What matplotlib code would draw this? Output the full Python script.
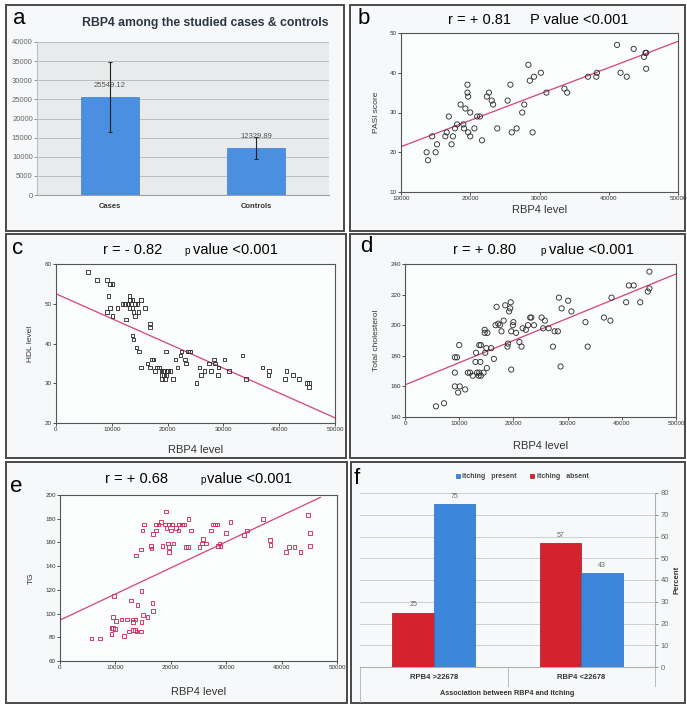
import matplotlib
matplotlib.use("Agg")
import matplotlib.pyplot as plt
from matplotlib.patches import Rectangle
import numpy as np

plt.rcParams["font.family"] = ["Liberation Sans", "DejaVu Sans"]

W, H = 687, 704
PANEL_BG = "#f7f8f9"
FRAME = "#4a4a4a"
FIT = "#d4437a"

# ---- panel a: mean RBP4 in cases / controls
a_groups = ["Cases", "Controls"]
a_means = [25549.12, 12329.89]
a_sd = [9200, 2800]
a_yticks = list(range(0, 40001, 5000))

# ---- panel b: RBP4 vs PASI score
b_rbp4 = [13700, 13900, 14500, 15000, 15200, 16400, 16600, 16900, 17300, 17500,
          17800, 18100, 18600, 19000, 19100, 19300, 19600, 19600, 19700, 19700,
          20000, 20000, 20600, 21000, 21400, 21700, 22400, 22700, 23100, 23300,
          23900, 25400, 25800, 26000, 26700, 27500, 27800, 28400, 28600, 29000,
          29200, 30200, 31000, 33600, 34000, 37000, 38200, 38300, 41200, 41700,
          42600, 43600, 45100, 45300, 45400, 45400]
b_pasi = [20, 18, 24, 20, 22, 24, 25, 29, 22, 24,
          26, 27, 32, 27, 26, 31, 37, 35, 34, 25,
          24, 30, 26, 29, 29, 23, 34, 35, 33, 32,
          26, 33, 37, 25, 26, 30, 32, 42, 38, 25,
          39, 40, 35, 36, 35, 39, 39, 40, 47, 40,
          39, 46, 44, 45, 41, 45]
b_fit_x = [10000, 50000]
b_fit_y = [21.4, 47.9]

# ---- panel c: RBP4 vs HDL
c_rbp4 = [5700, 7300, 9100, 9700, 10100, 9400, 9700, 9200, 10100, 11000,
          11900, 12400, 12800, 12500, 13200, 13300, 13700, 13000, 13500, 14200,
          14600, 13200, 13700, 13900, 14200, 14800, 15200, 15900, 16800, 16900,
          13700, 13900, 14400, 14900, 15200, 16400, 16800, 17200, 17500, 17700,
          18100, 18500, 18900, 19200, 19400, 19000, 19300, 19000, 19500, 19700,
          19800, 20100, 20500, 19800, 21000, 21400, 21800, 22300, 22500, 23100,
          23300, 23700, 24000, 25200, 25700, 26000, 26600, 27400, 27800, 28300,
          28500, 29000, 29100, 30200, 31000, 33400, 34000, 37000, 38100, 38200,
          41000, 41300, 42500, 43600, 45000, 45300, 45400]
c_hdl = [58, 56, 56, 55, 55, 52, 49, 48, 47, 49,
         50, 50, 50, 46, 52, 51, 51, 50, 50, 50,
         50, 49, 49, 48, 47, 48, 51, 49, 45, 44,
         42, 41, 39, 38, 34, 35, 34, 36, 36, 33,
         34, 34, 33, 33, 33, 32, 32, 31, 31, 38,
         33, 33, 33, 32, 31, 36, 34, 37, 38, 36,
         35, 38, 38, 30, 34, 32, 33, 35, 33, 36,
         35, 32, 34, 36, 33, 37, 31, 34, 32, 33,
         31, 33, 32, 31, 30, 30, 29]
c_fit_x = [0, 50000]
c_fit_y = [52.5, 21.3]

# ---- panel d: RBP4 vs total cholesterol
d_rbp4 = [5700, 7200, 9200, 9600, 9200, 9200, 10000, 9800, 10100, 11100,
          11600, 12000, 12500, 13000, 13100, 13300, 13600, 13700, 14000, 13700,
          14000, 13900, 14500, 14700, 14700, 15200, 14800, 15000, 15100, 15900,
          16400, 16900, 16700, 17200, 17500, 17800, 18200, 18500, 18900, 19000,
          19200, 19400, 19500, 19600, 19600, 19900, 20000, 20500, 21100, 21500,
          21700, 22300, 22700, 23100, 23300, 23800, 25200, 25500, 25800, 26500,
          27300, 27600, 28200, 28400, 28700, 28900, 30100, 30700, 33300, 33700,
          36700, 37900, 38100, 40800, 41300, 42200, 43400, 44800, 45100, 45100]
d_chol = [147, 149, 179, 179, 169, 160, 187, 156, 160, 158,
          169, 169, 167, 176, 182, 169, 167, 169, 167, 187,
          187, 176, 169, 197, 195, 195, 182, 185, 172, 185,
          178, 212, 200, 201, 200, 196, 203, 213, 186, 188,
          209, 211, 215, 196, 171, 200, 202, 195, 189, 186,
          198, 197, 200, 205, 205, 200, 205, 198, 203, 198,
          186, 196, 196, 218, 173, 211, 216, 209, 202, 186,
          205, 203, 218, 215, 226, 226, 215, 222, 224, 235]
d_fit_x = [0, 50000]
d_fit_y = [161, 233.5]

# ---- panel e: RBP4 vs TG
e_rbp4 = [5700, 7200, 9300, 9300, 9600, 9900, 9600, 9800, 10100, 11100,
          11600, 12100, 12500, 12800, 13100, 13200, 13200, 13500, 13600, 13800,
          14000, 14600, 14700, 14700, 15000, 15800, 16700, 16800,
          13700, 14600, 16400, 16500, 14900, 15200, 16800, 17300, 17300, 17800,
          18200, 18500, 19100, 18900, 19200, 19700, 20200, 19500, 19700, 19700,
          20000, 20500, 20900, 21400, 21500, 22000, 22400, 23200, 22700, 23100,
          23700, 25200, 25600, 25800, 26400, 27300, 27600, 28000, 28300, 28500,
          28800, 29000, 30000, 30800, 33200, 33700, 36700, 37900, 38000, 40800,
          41300, 42300, 43400, 44800, 45100, 45100]
e_tg = [79, 79, 83, 88, 88, 87, 97, 115, 94, 95,
        81, 95, 85, 111, 95, 93, 86, 86, 95, 85,
        107, 85, 93, 119, 99, 97, 109, 102,
        149, 154, 157, 155, 170, 175, 167, 170, 175, 175,
        177, 157, 186, 175, 172, 175, 175, 159, 156, 152,
        170, 159, 172, 170, 175, 175, 175, 180, 156, 156,
        170, 156, 159, 163, 159, 170, 175, 175, 175, 157,
        159, 157, 168, 177, 166, 170, 180, 162, 158, 152,
        156, 156, 152, 183, 168, 157]
e_fit_x = [0, 47000]
e_fit_y = [94.5, 198]

# ---- panel f: itching by RBP4 cut-off
f_groups = ["RPB4 >22678", "RBP4 <22678"]
f_present = [75, 43]
f_absent = [25, 57]


def px_axes(fig, x0, y0, x1, y1):
    return fig.add_axes([x0 / W, 1 - y1 / H, (x1 - x0) / W, (y1 - y0) / H])


def px_text(fig, x, y, s, **kw):
    kw.setdefault("ha", "center")
    kw.setdefault("va", "center")
    return fig.text(x / W, 1 - y / H, s, **kw)


def panel_box(fig, x0, y0, x1, y1):
    fig.add_artist(Rectangle((x0 / W, 1 - y1 / H), (x1 - x0) / W, (y1 - y0) / H,
                             transform=fig.transFigure, facecolor=PANEL_BG,
                             edgecolor=FRAME, linewidth=1.4, zorder=-5))


def scatter_panel(fig, box, x, y, fit_x, fit_y, xlim, ylim, yticks, ylabel,
                  marker, color, size, xlabel_y, ylabel_x):
    ax = px_axes(fig, *box)
    ax.set_facecolor("#fbfcfc")
    ax.scatter(x, y, s=size, marker=marker, facecolors="none", edgecolors=color,
               linewidths=0.65, zorder=3)
    ax.plot(fit_x, fit_y, color=FIT, lw=0.9, zorder=2)
    ax.set_xlim(xlim)
    ax.set_ylim(ylim)
    ax.set_xticks(np.arange(xlim[0], xlim[1] + 1, 10000))
    ax.set_yticks(yticks)
    ax.tick_params(labelsize=4.5, length=2, width=0.6, pad=1, colors="#333")
    for sp in ax.spines.values():
        sp.set_color("#555")
        sp.set_linewidth(0.8)
    x0, y0, x1, y1 = box
    px_text(fig, (x0 + x1) / 2, xlabel_y, "RBP4 level", fontsize=8, color="#333")
    px_text(fig, ylabel_x, (y0 + y1) / 2, ylabel, fontsize=6, rotation=90, color="#333")
    return ax


fig = plt.figure(figsize=(W / 100, H / 100), dpi=100, facecolor="white")

# panel frames
panel_box(fig, 6, 5, 344, 231)
panel_box(fig, 350, 5, 685, 231)
panel_box(fig, 6, 234, 346, 458)
panel_box(fig, 350, 234, 685, 458)
panel_box(fig, 6, 462, 347, 703)
panel_box(fig, 351, 462, 685, 703)

# ---------------- panel a
ax = px_axes(fig, 37, 42, 329, 195)
ax.set_facecolor("#e8eaeb")
xa = np.arange(len(a_groups))
ax.bar(xa, a_means, width=0.4, color="#4a8fe0", edgecolor="#3f7fd0", lw=0.5, zorder=3)
ax.errorbar(xa, a_means, yerr=a_sd, fmt="none", ecolor="#222", elinewidth=0.8,
            capsize=1.5, capthick=0.8, zorder=4)
for xi, m in zip(xa, a_means):
    ax.annotate(f"{m:.2f}", (xi, m), xytext=(0, 6), textcoords="offset points",
                ha="center", va="bottom", fontsize=5.5, color="#555", zorder=5)
ax.set_xlim(-0.5, 1.5)
ax.set_ylim(0, 40000)
ax.set_yticks(a_yticks)
ax.yaxis.grid(True, color="#b4b6b8", lw=0.6)
ax.set_axisbelow(True)
ax.set_xticks(xa)
ax.set_xticklabels(a_groups, fontsize=5.5, fontweight="bold", color="#333")
ax.tick_params(axis="y", labelsize=5.5, colors="#666", length=2, width=0.5, pad=1)
ax.tick_params(axis="x", length=0, pad=6)
for s in ["top", "right"]:
    ax.spines[s].set_visible(False)
ax.spines["left"].set_color("#c0c0c0")
ax.spines["bottom"].set_color("#a0a0a0")
px_text(fig, 19, 18, "a", fontsize=16)
px_text(fig, 205, 23, "RBP4 among the studied cases & controls", fontsize=8.8,
        fontweight="bold", color="#2b3644")

# ---------------- panel b
scatter_panel(fig, (401, 33, 678, 192), b_rbp4, b_pasi, b_fit_x, b_fit_y,
              (10000, 50000), (10, 50), [10, 20, 30, 40, 50], "PASI score",
              "o", "#333", 14, 210, 376)
px_text(fig, 364, 18, "b", fontsize=16)
px_text(fig, 448, 20, "r = + 0.81", fontsize=10.5, ha="left")
px_text(fig, 530, 20, "P value <0.001", fontsize=10.5, ha="left")

# ---------------- panel c
scatter_panel(fig, (56, 264, 335, 423), c_rbp4, c_hdl, c_fit_x, c_fit_y,
              (0, 50000), (20, 60), [20, 30, 40, 50, 60], "HDL level",
              "s", "#333", 7, 450, 31)
px_text(fig, 18, 248, "c", fontsize=16)
px_text(fig, 103, 250, "r = - 0.82", fontsize=10.5, ha="left")
px_text(fig, 184, 251, "p", fontsize=7, ha="left")
px_text(fig, 193, 250, "value <0.001", fontsize=10.5, ha="left")

# ---------------- panel d
scatter_panel(fig, (405, 264, 676, 417), d_rbp4, d_chol, d_fit_x, d_fit_y,
              (0, 50000), (140, 240), [140, 160, 180, 200, 220, 240],
              "Total cholesterol", "o", "#333", 14, 446, 376)
px_text(fig, 366, 247, "d", fontsize=16)
px_text(fig, 453, 250, "r = + 0.80", fontsize=10.5, ha="left")
px_text(fig, 540, 251, "p", fontsize=7, ha="left")
px_text(fig, 549, 250, "value <0.001", fontsize=10.5, ha="left")

# ---------------- panel e
scatter_panel(fig, (60, 495, 337, 661), e_rbp4, e_tg, e_fit_x, e_fit_y,
              (0, 50000), (60, 200), [60, 80, 100, 120, 140, 160, 180, 200], "TG",
              "s", "#d2305f", 7, 692, 31)
px_text(fig, 16, 486, "e", fontsize=16)
px_text(fig, 105, 479, "r = + 0.68", fontsize=10.5, ha="left")
px_text(fig, 200, 480, "p", fontsize=7, ha="left")
px_text(fig, 207, 479, "value <0.001", fontsize=10.5, ha="left")

# ---------------- panel f
ax = px_axes(fig, 360, 493, 655, 667)
ax.set_facecolor(PANEL_BG)
pos = np.arange(len(f_groups)) + 0.5
bw = 0.28
red_bars = ax.bar(pos - bw / 2, f_absent, bw, color="#d2232f", edgecolor="#a8141f",
                  lw=0.5, zorder=3)
blue_bars = ax.bar(pos + bw / 2, f_present, bw, color="#3c86dc", edgecolor="#2a6cc0",
                   lw=0.5, zorder=3)
for bars in (red_bars, blue_bars):
    for b in bars:
        ax.annotate(f"{b.get_height():.0f}", (b.get_x() + b.get_width() / 2, b.get_height()),
                    xytext=(0, 3), textcoords="offset points", ha="center", va="bottom",
                    fontsize=5, color="#666")
ax.set_xlim(0, 2)
ax.set_ylim(0, 80)
ax.set_yticks(range(0, 81, 10))
ax.yaxis.tick_right()
ax.yaxis.set_label_position("right")
ax.set_ylabel("Percent", fontsize=5.5, fontweight="bold", color="#333", labelpad=3)
ax.yaxis.grid(True, color="#c8c8c8", lw=0.6)
ax.set_axisbelow(True)
ax.tick_params(axis="y", labelsize=5.5, colors="#666", length=2, width=0.5, pad=2)
ax.set_xticks([])
for s in ["top", "left"]:
    ax.spines[s].set_visible(False)
ax.spines["right"].set_color("#b0b0b0")
ax.spines["bottom"].set_color("#b0b0b0")
tr = ax.get_xaxis_transform()
for xv, ylo in [(0, -0.2), (1, -0.11), (2, -0.11)]:
    ax.plot([xv, xv], [0, ylo], transform=tr, clip_on=False, color="#b0b0b0", lw=0.6)
for xi, lab in zip(pos, f_groups):
    ax.text(xi, -0.063, lab, transform=tr, ha="center", va="center", fontsize=5.5,
            fontweight="bold", color="#333")
ax.text(0.5, -0.155, "Association between RBP4 and itching", transform=ax.transAxes,
        ha="center", va="center", fontsize=5.2, fontweight="bold", color="#333")
ax.legend(handles=[blue_bars, red_bars], labels=["itching   present", "itching   absent"],
          ncol=2, loc="center", bbox_to_anchor=(522 / W, 1 - 477 / H),
          bbox_transform=fig.transFigure, frameon=False,
          prop={"weight": "bold", "size": 5}, handlelength=0.6, handleheight=0.6,
          handletextpad=0.3, columnspacing=2.0, labelcolor="#444")
px_text(fig, 357, 478, "f", fontsize=16)

fig.savefig("out.png", dpi=100, facecolor="white")
